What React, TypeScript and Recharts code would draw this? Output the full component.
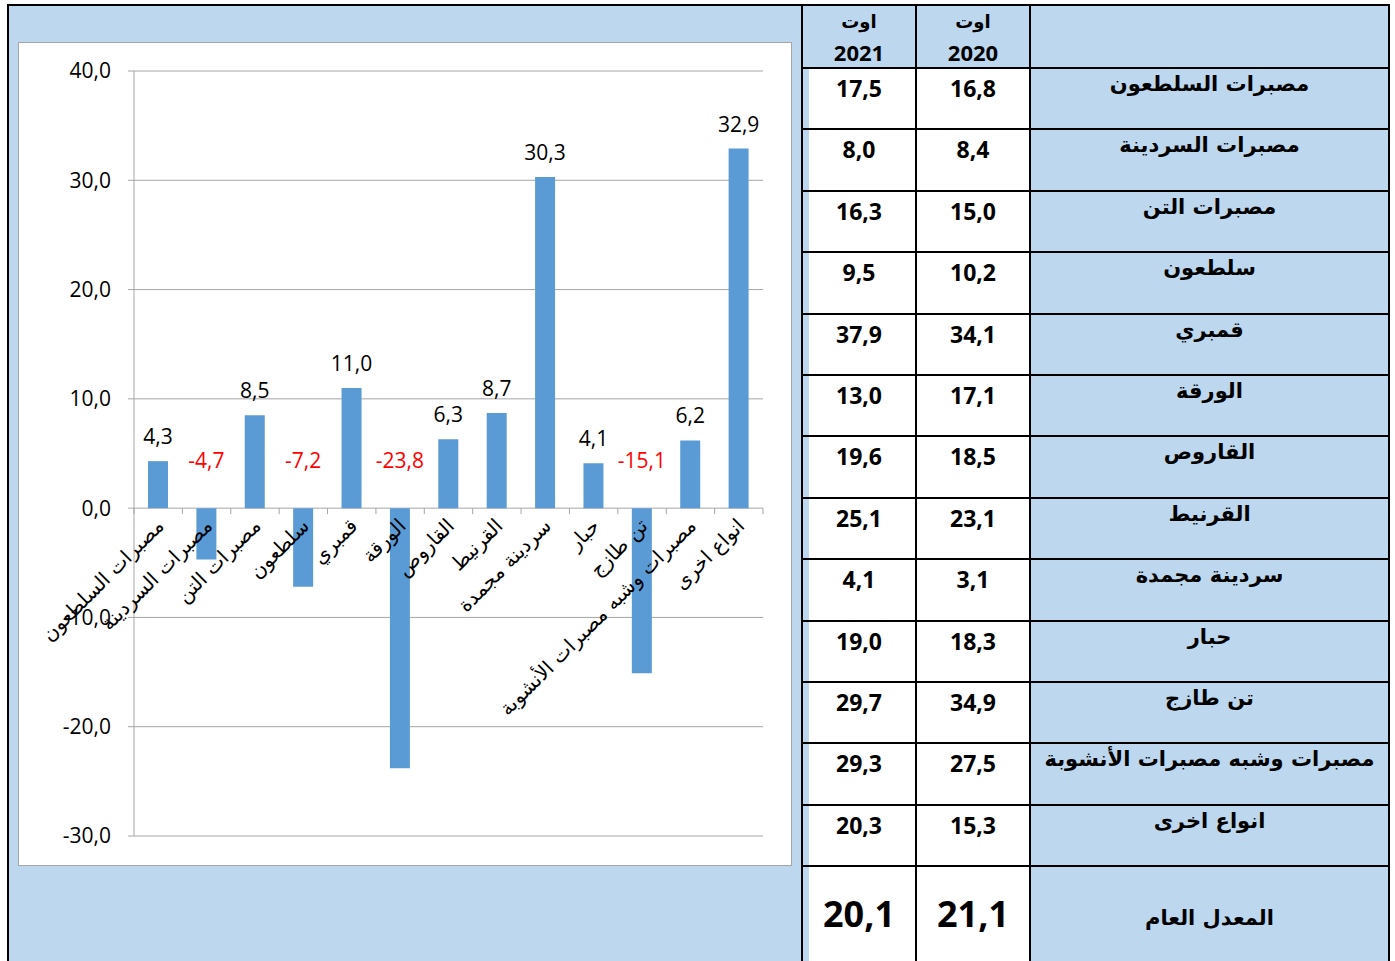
import React from 'react';
import {
  BarChart,
  Bar,
  XAxis,
  YAxis,
  CartesianGrid,
  LabelList,
} from 'recharts';

const CATEGORIES = [
  'مصبرات السلطعون',
  'مصبرات السردينة',
  'مصبرات التن',
  'سلطعون',
  'قمبري',
  'الورقة',
  'القاروص',
  'القرنيط',
  'سردينة مجمدة',
  'حبار',
  'تن طازج',
  'مصبرات وشبه مصبرات الأنشوبة',
  'انواع اخرى',
];

// variation (%) between the two years
const CHANGE = [4.3, -4.7, 8.5, -7.2, 11.0, -23.8, 6.3, 8.7, 30.3, 4.1, -15.1, 6.2, 32.9];

const VALUES_2021 = [17.5, 8.0, 16.3, 9.5, 37.9, 13.0, 19.6, 25.1, 4.1, 19.0, 29.7, 29.3, 20.3];
const VALUES_2020 = [16.8, 8.4, 15.0, 10.2, 34.1, 17.1, 18.5, 23.1, 3.1, 18.3, 34.9, 27.5, 15.3];
const AVG_2021 = 20.1;
const AVG_2020 = 21.1;
const AVG_LABEL = 'المعدل العام';
const MONTH = 'اوت';
const YEARS = ['2021', '2020'];

const Y_TICKS = [-30, -20, -10, 0, 10, 20, 30, 40];
const Y_MIN = -30;
const Y_MAX = 40;

const chartData = CATEGORIES.map((name, i) => ({ name, value: CHANGE[i] }));

const fmt = (v: number) => v.toFixed(1).replace('.', ',');

const PANEL = '#BDD7EE';
const BAR = '#5B9BD5';
const GRID = '#A6A6A6';
const NUM_FONT = '"Open Sans", "DejaVu Sans", sans-serif';
const AR_FONT = '"DejaVu Sans", sans-serif';

const W = 774;
const H = 824;
const MT = 29;
const MB = 29;
const MR = 29;
const YW = 116;
const XH = 1;
const PLOT_W = W - YW - MR;
const PLOT_H = H - MT - MB - XH;
const ZERO_Y = MT + (PLOT_H * Y_MAX) / (Y_MAX - Y_MIN);
const BAND = PLOT_W / CATEGORIES.length;

const CategoryTick = (props: any) => {
  const { x, payload, index } = props;
  const ax = x + 7;
  const ay = ZERO_Y + 19;
  return (
    <g>
      <line x1={x - BAND / 2} x2={x - BAND / 2} y1={ZERO_Y} y2={ZERO_Y + 6} stroke={GRID} />
      {index === CATEGORIES.length - 1 && (
        <line x1={x + BAND / 2} x2={x + BAND / 2} y1={ZERO_Y} y2={ZERO_Y + 6} stroke={GRID} />
      )}
      <text
        x={ax}
        y={ay}
        textAnchor="end"
        transform={`rotate(-45 ${ax} ${ay})`}
        fontFamily={AR_FONT}
        fontSize={20}
        fill="#000"
      >
        {payload.value}
      </text>
    </g>
  );
};

const BarValue = (props: any) => {
  const { x, y, width, height, value } = props;
  const top = Math.min(y, y + height);
  const cx = x + width / 2;
  if (value >= 0) {
    return (
      <text x={cx} y={top - 17} textAnchor="middle" fontFamily={NUM_FONT} fontSize={21} fill="#000">
        {fmt(value)}
      </text>
    );
  }
  return (
    <text x={cx} y={ZERO_Y - 40} textAnchor="middle" fontFamily={NUM_FONT} fontSize={21} fill="#FF0000">
      {fmt(value)}
    </text>
  );
};

const cell: React.CSSProperties = {
  border: '2px solid #000',
  textAlign: 'center',
  verticalAlign: 'top',
  padding: '3px 0 0 0',
  fontWeight: 700,
};

const App: React.FC = () => {
  return (
    <div
      style={{
        position: 'absolute',
        left: 0,
        top: 0,
        width: 1395,
        height: 961,
        overflow: 'hidden',
        background: '#fff',
      }}
    >
      <div
        style={{
          position: 'absolute',
          left: 7,
          top: 4,
          width: 800,
          height: 970,
          background: PANEL,
          borderTop: '2px solid #000',
          borderLeft: '2px solid #000',
        }}
      />
      <div
        style={{
          position: 'absolute',
          left: 18,
          top: 42,
          width: W,
          height: H,
          boxSizing: 'border-box',
          background: '#fff',
          border: `1px solid ${GRID}`,
        }}
      />
      <div style={{ position: 'absolute', left: 18, top: 42 }}>
        <BarChart
          width={W}
          height={H}
          data={chartData}
          margin={{ top: MT, right: MR, bottom: MB, left: 0 }}
        >
          <CartesianGrid vertical={false} stroke={GRID} />
          <XAxis
            dataKey="name"
            height={XH}
            axisLine={false}
            tickLine={false}
            interval={0}
            tick={(p: any) => <CategoryTick {...p} />}
          />
          <YAxis
            width={YW}
            domain={[Y_MIN, Y_MAX]}
            ticks={Y_TICKS}
            tickFormatter={fmt}
            axisLine={{ stroke: GRID }}
            tickLine={{ stroke: GRID }}
            tickSize={6}
            tickMargin={17}
            tick={{ fill: '#000', fontSize: 21, fontFamily: NUM_FONT }}
          />
          <Bar dataKey="value" fill={BAR} barSize={20} isAnimationActive={false}>
            <LabelList dataKey="value" content={<BarValue />} />
          </Bar>
        </BarChart>
      </div>
      <table
        style={{
          position: 'absolute',
          left: 801,
          top: 4,
          borderCollapse: 'collapse',
          tableLayout: 'fixed',
          width: 587,
          fontFamily: NUM_FONT,
          color: '#000',
        }}
      >
        <colgroup>
          <col style={{ width: 114 }} />
          <col style={{ width: 114 }} />
          <col style={{ width: 359 }} />
        </colgroup>
        <tbody>
          <tr style={{ height: 63 }}>
            {YEARS.map((yr) => (
              <td
                key={yr}
                style={{ ...cell, background: PANEL, fontSize: 22, lineHeight: '30px', padding: 0, verticalAlign: 'middle' }}
              >
                <div style={{ fontFamily: AR_FONT, fontSize: 18 }}>{MONTH}</div>
                <div>{yr}</div>
              </td>
            ))}
            <td style={{ ...cell, background: PANEL }} />
          </tr>
          {CATEGORIES.map((name, i) => (
            <tr key={name} style={{ height: 61.4 }}>
              <td style={{ ...cell, fontSize: 23 }}>{fmt(VALUES_2021[i])}</td>
              <td style={{ ...cell, fontSize: 23 }}>{fmt(VALUES_2020[i])}</td>
              <td style={{ ...cell, background: PANEL, fontFamily: AR_FONT, fontSize: 21, direction: 'rtl' }}>
                {name}
              </td>
            </tr>
          ))}
          <tr style={{ height: 100 }}>
            <td style={{ ...cell, fontSize: 36, verticalAlign: 'middle', paddingBottom: 8 }}>{fmt(AVG_2021)}</td>
            <td style={{ ...cell, fontSize: 36, verticalAlign: 'middle', paddingBottom: 8 }}>{fmt(AVG_2020)}</td>
            <td
              style={{
                ...cell,
                background: PANEL,
                fontFamily: AR_FONT,
                fontSize: 21,
                verticalAlign: 'middle',
                paddingBottom: 0,
                direction: 'rtl',
              }}
            >
              {AVG_LABEL}
            </td>
          </tr>
        </tbody>
      </table>
    </div>
  );
};

export default App;
